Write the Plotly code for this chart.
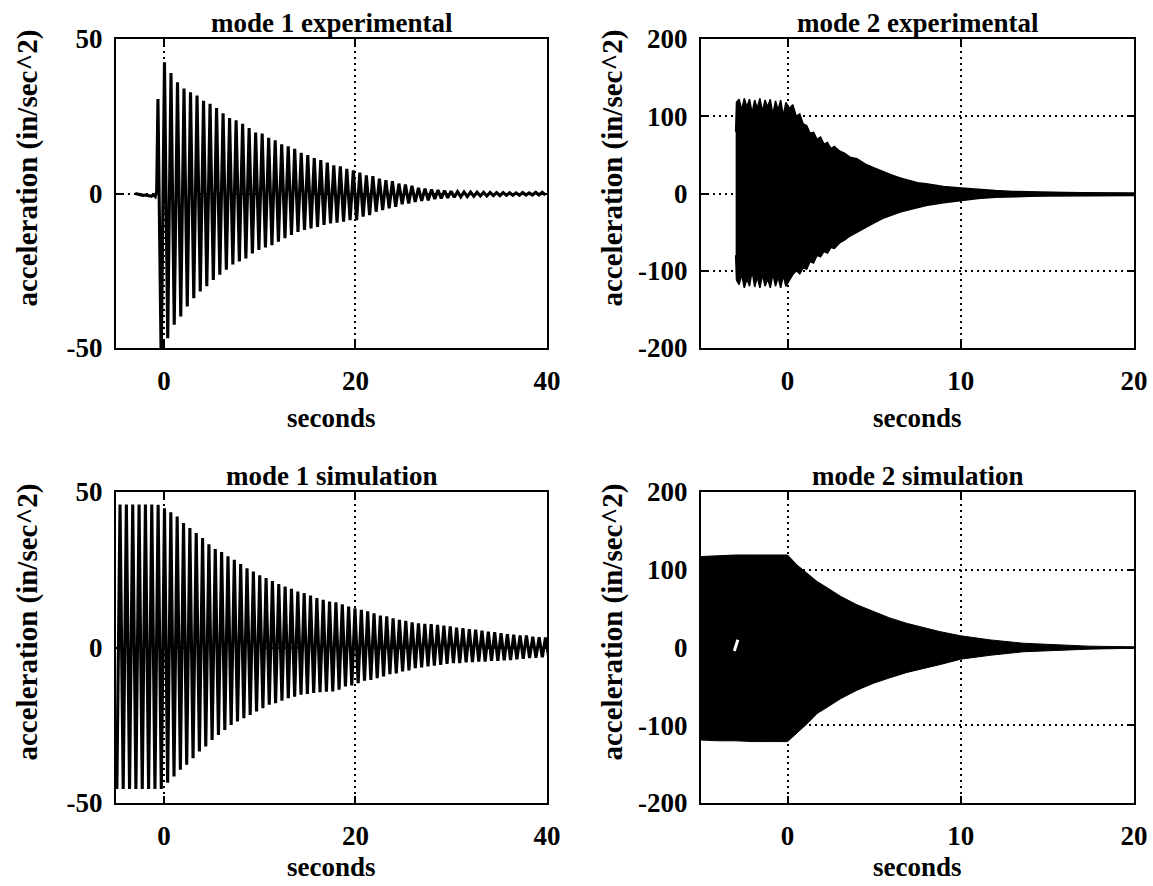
import plotly.graph_objects as go

W, H = 1153, 886

# ---------------- data ----------------
# mode 1 experimental: quiet lead-in, then one max / one min per cycle
m1e_pre_t = [-3.0, -2.6, -2.2, -1.9, -1.6, -1.3, -1.1, -0.9, -0.75]
m1e_pre_v = [0.0, -0.4, -0.6, -0.5, -0.7, -0.9, -0.4, -1.0, 0.8]
m1e_first_peak = -0.62   # seconds
m1e_period = 0.68        # seconds per cycle
m1e_max = [30.6, 42.5, 39, 36, 34, 32.8, 31.7, 30, 29, 27.7,
           26, 24.4, 23.7, 22.6, 21.2, 19.7, 19.4, 18, 17.2, 15.9,
           15.3, 14.5, 13.2, 12.4, 11.5, 10.8, 10, 9.1, 8.8, 8.0,
           7.5, 6.8, 5.9, 5.6, 4.8, 4.3, 4.0, 3.2, 2.9, 2.5,
           1.8, 1.6, 1.3, 1.1, 0.9, 0.75, 0.6, 0.5, 0.45, 0.4,
           0.4, 0.35, 0.3, 0.3, 0.25, 0.2, 0.3, 0.2, 0.4, 0.4]
m1e_min = [-55, -46.8, -42.5, -39.8, -36.6, -33.9, -31.7, -30, -28, -26.3,
           -24.7, -23, -22, -21, -19.4, -18.3, -17.5, -16.7, -15.6, -14.5,
           -13.4, -12.4, -11.8, -11.3, -10.8, -10.2, -9.7, -9.4, -9.1, -8.6,
           -8.6, -7.5, -7, -5.9, -5.4, -4.8, -4.3, -3.5, -3.2, -2.7,
           -2.4, -2.2, -1.8, -1.6, -1.4, -1.2, -1.1, -1.0, -0.9, -0.8,
           -0.8, -0.7, -0.7, -0.6, -0.6, -0.6, -0.5, -0.5, -0.5, -0.5]

# mode 1 simulation
m1s_pre_t = [-4.91]
m1s_pre_v = [-45.5]
m1s_first_peak = -4.58
m1s_period = 0.663
m1s_max = [46, 46, 46, 46, 46, 46, 45.9, 44.8, 43.5, 42.1,
           40, 38.4, 36.8, 35.2, 33.2, 31.7, 30.7, 29.3, 28.2, 26.8,
           25.5, 24.4, 23.2, 22.3, 21.4, 20.4, 19.6, 18.9, 18, 17.5,
           16.7, 15.9, 15.3, 14.8, 14.5, 13.9, 13.2, 12.6, 12.1, 11.6,
           11, 10.3, 10, 9.4, 8.9, 8.6, 8.1, 7.8, 7.6, 7.5,
           7.3, 7, 6.8, 6.4, 6.2, 5.9, 5.7, 5.4, 5.1, 4.9,
           4.6, 4.3, 4.1, 3.9, 3.9, 3.5, 3.3, 3.2]
m1s_min = [-45.5, -45.5, -45.5, -45.5, -45.5, -45.5, -45.5, -43.5, -41.5, -39.3,
           -37.7, -35.6, -33.4, -31.8, -29.7, -28.1, -26.5, -24.9, -23.8, -22.7,
           -21.7, -20.6, -19.5, -18.4, -17.9, -17.1, -16.3, -15.8, -15.2, -14.9,
           -14.6, -14.4, -14.2, -14.1, -13.6, -12.5, -12.2, -11.5, -10.7, -10.4,
           -9.9, -9.3, -8.6, -8.3, -7.7, -7.4, -6.6, -6.4, -6.1, -5.8,
           -5.6, -5.3, -5.0, -5.0, -4.8, -4.7, -4.5, -4.5, -4.3, -4.3,
           -4.1, -4.0, -3.8, -3.6, -3.4, -3.3, -3.1, -3.0]

# mode 2 experimental: outer envelope of the dense oscillation
m2e_t = [-3.0, -2.95, -2.8, -2.65, -2.5, -2.35, -2.2, -2.05, -1.9, -1.75,
         -1.6, -1.45, -1.3, -1.15, -1.0, -0.85, -0.7, -0.55, -0.4, -0.25,
         -0.1, 0.1, 0.3, 0.5, 0.7, 0.9, 1.1, 1.3, 1.5, 1.7,
         1.9, 2.1, 2.3, 2.5, 2.7, 3.0, 3.3, 3.6, 4.0, 4.5,
         5.0, 5.5, 6.0, 6.5, 7.0, 7.5, 8.0, 9.0, 10.0, 11.0,
         12.0, 13.0, 14.0, 15.0, 16.0, 17.0, 18.0, 19.0, 20.0]
m2e_up = [80, 118, 122, 108, 123, 112, 122, 104, 121, 110,
          123, 106, 121, 112, 122, 102, 120, 108, 121, 100,
          118, 110, 115, 100, 103, 90, 88, 78, 79, 70,
          73, 64, 66, 58, 61, 55, 52, 47, 45, 38,
          33, 28, 24, 20, 17, 14, 12.5, 9, 7, 5,
          3.8, 2.7, 2, 1.5, 1.2, 1, 0.9, 0.8, 0.8]
m2e_lo = [-80, -112, -118, -105, -122, -110, -120, -100, -121, -108,
          -122, -105, -120, -110, -122, -104, -120, -108, -122, -106,
          -120, -112, -105, -100, -104, -96, -98, -88, -90, -80,
          -82, -75, -77, -70, -71, -64, -60, -55, -50, -44,
          -38, -32, -28, -24, -21, -18, -15.5, -12, -9, -6.5,
          -5, -4.2, -3.6, -3.2, -3, -2.8, -2.7, -2.6, -2.6]

# mode 2 simulation: outer envelope
m2s_t = [-5, -4, -3, -2, -1, 0, 0.55, 1.13, 1.7, 2.28,
         3.05, 4.0, 4.96, 5.9, 6.9, 7.8, 8.8, 10, 11.7, 13.6,
         15.5, 17.4, 20]
m2s_up = [117, 118, 119, 119, 119, 119, 106, 96, 85, 77,
          66, 55, 46, 38, 31, 25.5, 20.4, 15, 9.8, 5.5,
          3.4, 1.7, 0.9]
m2s_lo = [-119, -120, -120, -121, -121, -121, -110, -98, -85, -77,
          -66, -55, -46, -39, -32, -27, -22, -15, -10, -5.5,
          -3.4, -2.1, -1.0]
m2s_mark_t = [-3.08, -2.87]
m2s_mark_v = [-4.5, 10]

titles = ["mode 1 experimental", "mode 2 experimental",
          "mode 1 simulation", "mode 2 simulation"]
x_title = "seconds"
y_title = "acceleration (in/sec^2)"

m1_xrange = [-5, 40]
m1_xticks = [0, 20, 40]
m1_yrange = [-50, 50]
m1_yticks = [-50, 0, 50]
m1_yticktext = ["-50", "0", "50"]
m2_xrange = [-5, 20]
m2_xticks = [0, 10, 20]
m2_yrange = [-200, 200]
m2_yticks = [-200, -100, 0, 100, 200]
m2_yticktext = ["-200", "-100", "0", "100", "200"]

# ---------------- figure ----------------
FONT = "Liberation Serif"
FS = 27
FS_Y = 29


def zigzag(pre_t, pre_v, t0, period, maxima, minima):
    xs, ys = list(pre_t), list(pre_v)
    for i, (a, b) in enumerate(zip(maxima, minima)):
        xs += [t0 + i * period, t0 + (i + 0.5) * period]
        ys += [a, b]
    return xs, ys


def px_x(p):
    return p / W


def px_y(p):
    return 1 - p / H


def bold(s):
    return "<b>" + s + "</b>"


# panel boxes in pixels: (left, right, top, bottom)
boxes = [(116, 547, 39, 348), (701, 1134, 39, 348),
         (116, 547, 492, 803), (701, 1134, 492, 803)]
xtitle_offset = [70, 70, 64, 64]

fig = go.Figure()

x1, y1 = zigzag(m1e_pre_t, m1e_pre_v, m1e_first_peak, m1e_period, m1e_max, m1e_min)
fig.add_trace(go.Scatter(x=x1, y=y1, mode="lines", line=dict(color="black", width=3.1),
                         xaxis="x", yaxis="y", hoverinfo="skip"))

fig.add_trace(go.Scatter(x=m2e_t + m2e_t[::-1], y=m2e_up + m2e_lo[::-1], mode="lines",
                         fill="toself", fillcolor="black",
                         line=dict(color="black", width=1.5),
                         xaxis="x2", yaxis="y2", hoverinfo="skip"))

x3, y3 = zigzag(m1s_pre_t, m1s_pre_v, m1s_first_peak, m1s_period, m1s_max, m1s_min)
fig.add_trace(go.Scatter(x=x3, y=y3, mode="lines", line=dict(color="black", width=3.1),
                         xaxis="x3", yaxis="y3", hoverinfo="skip"))

fig.add_trace(go.Scatter(x=m2s_t + m2s_t[::-1], y=m2s_up + m2s_lo[::-1], mode="lines",
                         fill="toself", fillcolor="black",
                         line=dict(color="black", width=1),
                         xaxis="x4", yaxis="y4", hoverinfo="skip"))
fig.add_trace(go.Scatter(x=m2s_mark_t, y=m2s_mark_v, mode="lines",
                         line=dict(color="white", width=3),
                         xaxis="x4", yaxis="y4", hoverinfo="skip"))

tickfont = dict(family=FONT, size=FS, color="black", weight="bold")
common = dict(showline=True, linecolor="black", linewidth=2, mirror="ticks",
              ticks="inside", ticklen=7, tickwidth=2, tickcolor="black",
              showgrid=True, gridcolor="black", gridwidth=1.5, griddash="2px,4px",
              zeroline=False, tickfont=tickfont, fixedrange=True, automargin=False)

layout = dict(template="none", width=W, height=H, margin=dict(l=0, r=0, t=0, b=0, pad=0),
              autosize=False,
              paper_bgcolor="white", plot_bgcolor="white", showlegend=False,
              font=dict(family=FONT, size=FS, color="black"))

specs = [(m1_xrange, m1_xticks, m1_yrange, m1_yticks, m1_yticktext),
         (m2_xrange, m2_xticks, m2_yrange, m2_yticks, m2_yticktext),
         (m1_xrange, m1_xticks, m1_yrange, m1_yticks, m1_yticktext),
         (m2_xrange, m2_xticks, m2_yrange, m2_yticks, m2_yticktext)]

annotations = []
for k, ((l, r, t, b), (xr, xt, yr, yt, ytt)) in enumerate(zip(boxes, specs)):
    suffix = "" if k == 0 else str(k + 1)
    layout["xaxis" + suffix] = dict(common, domain=[px_x(l), px_x(r)], range=xr,
                                    tickvals=xt, ticktext=[str(v) for v in xt],
                                    anchor="y" + suffix, ticklabelstandoff=8)
    layout["yaxis" + suffix] = dict(common, domain=[px_y(b), px_y(t)], range=yr,
                                    tickvals=yt, ticktext=ytt,
                                    anchor="x" + suffix, ticklabelstandoff=6)
    cx = (l + r) / 2
    annotations.append(dict(text=bold(titles[k]), x=px_x(cx), y=px_y(t - 16),
                            xref="paper", yref="paper", showarrow=False,
                            xanchor="center", yanchor="middle",
                            font=dict(family=FONT, size=FS, color="black")))
    annotations.append(dict(text=bold(x_title), x=px_x(cx), y=px_y(b + xtitle_offset[k]),
                            xref="paper", yref="paper", showarrow=False,
                            xanchor="center", yanchor="middle",
                            font=dict(family=FONT, size=FS, color="black")))
    annotations.append(dict(text=bold(y_title), x=px_x(l - 89), y=px_y((t + b) / 2 - 25),
                            xref="paper", yref="paper", showarrow=False,
                            xanchor="center", yanchor="middle", textangle=-90,
                            font=dict(family=FONT, size=FS_Y, color="black")))

layout["annotations"] = annotations
fig.update_layout(**layout)
fig.write_html("out.html")
